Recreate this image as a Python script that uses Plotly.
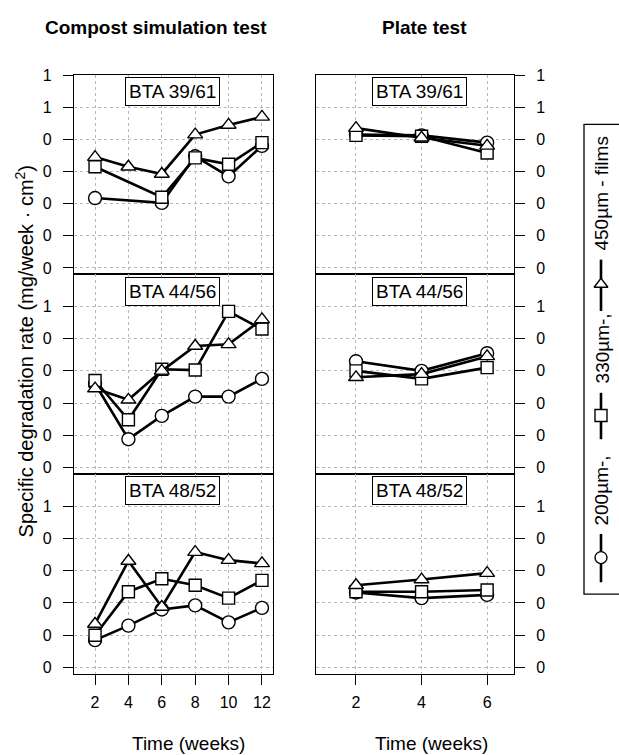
import plotly.graph_objects as go

# ---------------- data ----------------
weeks_compost = [2, 4, 6, 8, 10, 12]
weeks_plate = [2, 4, 6]

y_tick_vals = [0, 0.2, 0.4, 0.6, 0.8, 1.0, 1.2]
y_tick_text = ["0", "0", "0", "0", "0", "1", "1"]
x_ticks_compost = [2, 4, 6, 8, 10, 12]
x_ticks_plate = [2, 4, 6]

materials = ["BTA 39/61", "BTA 44/56", "BTA 48/52"]
thickness_labels = ["200µm-,", "330µm-,", "450µm - films"]

compost_39_61_200 = [0.435, None, 0.405, 0.695, 0.57, 0.76]
compost_39_61_330 = [0.63, None, 0.44, 0.685, 0.645, 0.78]
compost_39_61_450 = [0.69, 0.63, 0.585, 0.83, 0.89, 0.94]

compost_44_56_200 = [0.52, 0.175, 0.32, 0.44, 0.44, 0.55]
compost_44_56_330 = [0.54, 0.296, 0.61, 0.605, 0.97, 0.86]
compost_44_56_450 = [0.49, 0.42, 0.60, 0.755, 0.765, 0.92]

compost_48_52_200 = [0.17, 0.26, 0.36, 0.385, 0.28, 0.37]
compost_48_52_330 = [0.20, 0.47, 0.55, 0.51, 0.43, 0.54]
compost_48_52_450 = [0.27, 0.66, 0.375, 0.715, 0.665, 0.645]

plate_39_61_200 = [0.83, 0.825, 0.78]
plate_39_61_330 = [0.825, 0.82, 0.715]
plate_39_61_450 = [0.87, 0.81, 0.76]

plate_44_56_200 = [0.66, 0.60, 0.71]
plate_44_56_330 = [0.60, 0.55, 0.62]
plate_44_56_450 = [0.56, 0.58, 0.69]

plate_48_52_200 = [0.465, 0.43, 0.45]
plate_48_52_330 = [0.47, 0.47, 0.48]
plate_48_52_450 = [0.51, 0.545, 0.585]

compost_data = [
    [compost_39_61_200, compost_39_61_330, compost_39_61_450],
    [compost_44_56_200, compost_44_56_330, compost_44_56_450],
    [compost_48_52_200, compost_48_52_330, compost_48_52_450],
]
plate_data = [
    [plate_39_61_200, plate_39_61_330, plate_39_61_450],
    [plate_44_56_200, plate_44_56_330, plate_44_56_450],
    [plate_48_52_200, plate_48_52_330, plate_48_52_450],
]

# ---------------- layout constants ----------------
W, H = 619, 755
FONT = "Liberation Sans, Arial, sans-serif"
symbols = ["circle", "square", "triangle-up"]
GRID = "#b8b8b8"


def px_x(p):
    return p / W


def px_y(p):
    return 1 - p / H


rows_px = [(68, 270), (270, 472), (472, 675)]
cols_px = [(74, 273), (316, 514)]
x_ranges = [[0.74, 12.66], [0.78, 6.82]]
y_range = [-0.04, 1.2]

fig = go.Figure()
layout = dict(
    width=W, height=H,
    margin=dict(l=0, r=0, t=0, b=0),
    paper_bgcolor="white", plot_bgcolor="rgba(0,0,0,0)",
    showlegend=False,
    font=dict(family=FONT, color="black"),
)

annotations = []
shapes = []

for c in range(2):
    for r in range(3):
        idx = c * 3 + r + 1
        xa = "xaxis" if idx == 1 else f"xaxis{idx}"
        ya = "yaxis" if idx == 1 else f"yaxis{idx}"
        xref = "x" if idx == 1 else f"x{idx}"
        yref = "y" if idx == 1 else f"y{idx}"
        bottom = r == 2
        xt = x_ticks_compost if c == 0 else x_ticks_plate
        layout[xa] = dict(
            domain=[px_x(cols_px[c][0]), px_x(cols_px[c][1])],
            anchor=yref, range=x_ranges[c],
            showline=True, mirror=True, linecolor="black", linewidth=1.3,
            showgrid=True, gridcolor=GRID, griddash="dot", gridwidth=1,
            zeroline=False,
            tickmode="array", tickvals=xt, ticktext=[str(v) for v in xt],
            ticks="outside" if bottom else "", ticklen=10, tickcolor="black",
            showticklabels=bottom, tickfont=dict(size=16),
            ticklabelstandoff=4,
        )
        tv = y_tick_vals if r == 0 else y_tick_vals[:-1]
        tt = y_tick_text if r == 0 else y_tick_text[:-1]
        layout[ya] = dict(
            domain=[px_y(rows_px[r][1]), px_y(rows_px[r][0])],
            anchor=xref, range=y_range,
            side="left" if c == 0 else "right",
            showline=True, mirror=True, linecolor="black", linewidth=1.3,
            showgrid=True, gridcolor=GRID, griddash="dot", gridwidth=1,
            zeroline=False,
            tickmode="array", tickvals=tv, ticktext=tt,
            ticks="outside", ticklen=10, tickcolor="black",
            tickfont=dict(size=16), ticklabelstandoff=8,
        )
        xs = weeks_compost if c == 0 else weeks_plate
        series = compost_data[r] if c == 0 else plate_data[r]
        for s in range(3):
            fig.add_trace(go.Scatter(
                x=xs, y=series[s], xaxis=xref, yaxis=yref,
                mode="lines+markers", connectgaps=True,
                line=dict(color="black", width=2.6),
                marker=dict(symbol=symbols[s], size=13 if s != 1 else 12,
                            color="white", line=dict(color="black", width=1.4)),
                cliponaxis=False, hoverinfo="skip",
            ))
        # material label box
        cx = [172, 419][c]
        cy = rows_px[r][0] + 17
        annotations.append(dict(
            text=materials[r], x=px_x(cx), y=px_y(cy), xref="paper", yref="paper",
            showarrow=False, font=dict(size=19), bgcolor="white",
            bordercolor="black", borderwidth=1, borderpad=3,
            xanchor="center", yanchor="middle",
        ))


# ---- titles ----
def ptxt(text, x, y, angle=0, size=19):
    return dict(text=text, x=px_x(x), y=px_y(y), xref="paper", yref="paper",
                showarrow=False, font=dict(size=size), textangle=angle,
                xanchor="center", yanchor="middle")


annotations += [
    ptxt("<b>Compost simulation test</b>", 156, 20),
    ptxt("<b>Plate test</b>", 424, 20),
    ptxt("Time (weeks)", 188, 745),
    ptxt("Time (weeks)", 431, 745),
    ptxt("Specific degradation rate (mg/week · cm<sup>2</sup>)", 24, 348, -90, 20),
]

# ---- custom rotated legend (overlay axis in pixel units) ----
layout["xaxis7"] = dict(domain=[0, 1], range=[0, W], visible=False, fixedrange=True, anchor="y7")
layout["yaxis7"] = dict(domain=[0, 1], range=[H, 0], visible=False, fixedrange=True, anchor="x7")

shapes.append(dict(type="rect", xref="paper", yref="paper",
                   x0=px_x(584), x1=px_x(621), y0=px_y(594), y1=px_y(118),
                   line=dict(color="black", width=1.3), fillcolor="rgba(0,0,0,0)", layer="below"))

leg_x = 601
leg_items = [  # (line y0, line y1, marker y, text center y)
    (533, 582, 557, 489),
    (390, 437, 413, 345),
    (255, 307, 280, 188),
]
for s, (l0, l1, my, ty) in enumerate(leg_items):
    fig.add_trace(go.Scatter(
        x=[leg_x, leg_x], y=[l0, l1], xaxis="x7", yaxis="y7", mode="lines",
        line=dict(color="black", width=2.6), hoverinfo="skip"))
    fig.add_trace(go.Scatter(
        x=[leg_x], y=[my], xaxis="x7", yaxis="y7", mode="markers",
        marker=dict(symbol=symbols[s], size=12, color="white",
                    line=dict(color="black", width=1.4)), hoverinfo="skip"))
    annotations.append(dict(
        text=thickness_labels[s], x=leg_x + 1, y=ty, xref="x7", yref="y7",
        showarrow=False, textangle=-90, font=dict(size=19),
        xanchor="center", yanchor="middle"))

layout["annotations"] = annotations
layout["shapes"] = shapes
fig.update_layout(**layout)
fig.write_html("out.html")
